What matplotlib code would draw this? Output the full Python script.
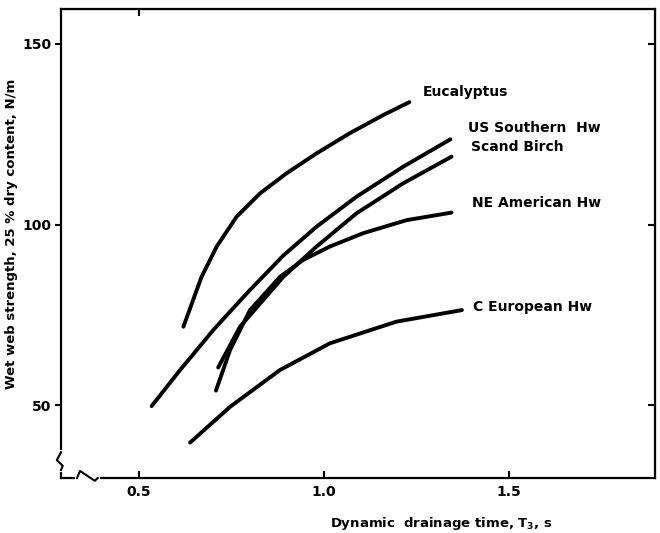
import matplotlib
matplotlib.use('Agg')
import matplotlib.pyplot as plt

# curve data
euc_x = [0.620, 0.669, 0.710, 0.764, 0.827, 0.899, 0.980, 1.070, 1.160, 1.231]
euc_y = [71.7, 85.5, 93.9, 102.2, 108.6, 114.2, 119.7, 125.3, 130.3, 133.9]

ussh_x = [0.534, 0.611, 0.701, 0.791, 0.890, 0.980, 1.088, 1.214, 1.342]
ussh_y = [49.7, 59.7, 70.8, 80.9, 91.4, 99.4, 107.7, 116.0, 123.6]

birch_x = [0.714, 0.773, 0.890, 0.980, 1.088, 1.214, 1.345]
birch_y = [60.4, 71.7, 85.5, 93.9, 103.1, 111.4, 118.8]

nea_x = [0.708, 0.746, 0.800, 0.881, 0.944, 1.016, 1.106, 1.223, 1.345]
nea_y = [54.0, 65.2, 76.3, 85.5, 90.2, 93.9, 97.6, 101.2, 103.3]

ceu_x = [0.638, 0.746, 0.881, 1.016, 1.196, 1.373]
ceu_y = [39.6, 49.5, 59.7, 67.1, 73.1, 76.3]

names = ['Eucalyptus', 'US Southern  Hw', 'Scand Birch', 'NE American Hw', 'C European Hw']
label_x = [1.268, 1.389, 1.397, 1.400, 1.403]
label_y = [136.7, 126.7, 121.5, 106.0, 77.1]

xticks = [0.5, 1.0, 1.5]
xticklabels = ['0.5', '1.0', '1.5']
yticks = [50, 100, 150]

plt.rcParams['font.family'] = ['DejaVu Sans']
plt.rcParams['font.weight'] = 'bold'

fig = plt.figure(figsize=(6.6, 5.33), dpi=100)
ax = fig.add_axes([0.0924, 0.1032, 0.9, 0.88])

for xs, ys in [(euc_x, euc_y), (ussh_x, ussh_y), (birch_x, birch_y),
               (nea_x, nea_y), (ceu_x, ceu_y)]:
    ax.plot(xs, ys, color='black', linewidth=2.8,
            solid_capstyle='round', solid_joinstyle='round')

for name, tx, ty in zip(names, label_x, label_y):
    ax.text(tx, ty, name, fontsize=10, fontweight='bold', ha='left', va='center')

ax.set_xlim(0.289, 1.895)
ax.set_ylim(29.8, 159.7)

ax.set_xticks(xticks)
ax.set_xticklabels(xticklabels)
ax.set_yticks(yticks)
ax.tick_params(axis='x', direction='in', length=5, width=1.5, pad=5, labelsize=10)
ax.tick_params(axis='y', direction='out', length=4, width=1.5, pad=3, labelsize=10)
for lab in ax.get_xticklabels() + ax.get_yticklabels():
    lab.set_fontweight('bold')

for s in ax.spines.values():
    s.set_linewidth(1.6)

# inward ticks on top and right edges
top = ax.secondary_xaxis('top')
top.set_xticks([0.5])
top.tick_params(direction='in', length=5, width=1.5, labeltop=False)
right = ax.secondary_yaxis('right')
right.set_yticks(yticks)
right.tick_params(direction='in', length=5, width=1.5, labelright=False)

ax.set_ylabel('Wet web strength, 25 % dry content, N/m', fontsize=9.5, fontweight='bold')
ax.yaxis.set_label_coords(-0.072, 0.52)
ax.set_xlabel('Dynamic  drainage time, T$_\\mathbf{3}$, s', fontsize=9.5, fontweight='bold')
ax.xaxis.set_label_coords(0.64, -0.078)

# axis break marks
ax.plot([0, 0], [0.017, 0.055], color='white', linewidth=3, transform=ax.transAxes, clip_on=False, zorder=5)
ax.plot([0, -0.007, 0.003, 0], [0.055, 0.038, 0.026, 0.017], color='black', linewidth=1.5,
        transform=ax.transAxes, clip_on=False, zorder=6)
ax.plot([0.027, 0.062], [0, 0], color='white', linewidth=3, transform=ax.transAxes, clip_on=False, zorder=5)
ax.plot([0.027, 0.032, 0.057, 0.062], [0, 0.015, -0.006, 0], color='black', linewidth=1.5,
        transform=ax.transAxes, clip_on=False, zorder=6)

plt.savefig('out.png', dpi=100)
